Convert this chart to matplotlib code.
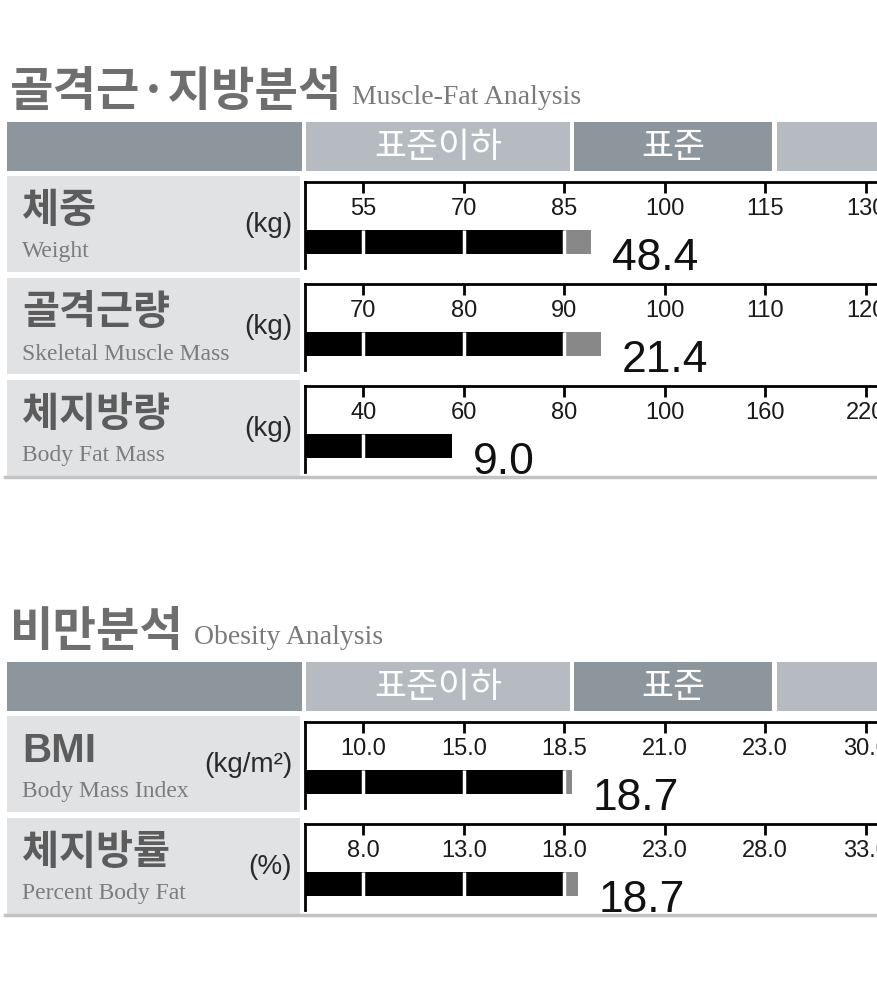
import matplotlib
matplotlib.use('Agg')
import matplotlib.pyplot as plt
import numpy as np
from matplotlib.patches import Rectangle
from matplotlib.font_manager import fontManager

# ---- data ----
muscle_title = '골격근·지방분석'
muscle_sub = 'Muscle-Fat Analysis'
muscle_kr = ['체중', '골격근량', '체지방량']
muscle_en = ['Weight', 'Skeletal Muscle Mass', 'Body Fat Mass']
muscle_units = ['(kg)', '(kg)', '(kg)']
muscle_ticks = [[55, 70, 85, 100, 115, 130],
                [70, 80, 90, 100, 110, 120],
                [40, 60, 80, 100, 160, 220]]
muscle_bar = [89.0, 93.7, 57.6]          # % of standard
muscle_values = ['48.4', '21.4', '9.0']

obesity_title = '비만분석'
obesity_sub = 'Obesity Analysis'
obesity_kr = ['BMI', '체지방률']
obesity_en = ['Body Mass Index', 'Percent Body Fat']
obesity_units = ['(kg/m²)', '(%)']
obesity_ticks = [[10.0, 15.0, 18.5, 21.0, 23.0, 30.0],
                 [8.0, 13.0, 18.0, 23.0, 28.0, 33.0]]
obesity_bar = [18.7, 18.7]
obesity_values = ['18.7', '18.7']

header_labels = ['표준이하', '표준', '']

# ---- style ----
names = {f.name for f in fontManager.ttflist}
NARROW = 'Liberation Sans Narrow' if 'Liberation Sans Narrow' in names else 'Liberation Sans'
KR = ['Noto Sans CJK KR', 'DejaVu Sans']
SERIF = 'Liberation Serif'
DARK_CELL = '#8e969d'
LIGHT_CELL = '#b6bbc1'
LABEL_CELL = '#e1e2e4'
W, H = 877, 1000


def seg_scale(ticks):
    t = np.asarray(ticks, float)
    p = np.arange(len(t), dtype=float)

    def fwd(v):
        v = np.asarray(v, float)
        out = np.interp(v, t, p)
        out = np.where(v < t[0], (v - t[0]) / (t[1] - t[0]), out)
        out = np.where(v > t[-1], p[-1] + (v - t[-1]) / (t[-1] - t[-2]), out)
        return out

    def inv(x):
        x = np.asarray(x, float)
        out = np.interp(x, p, t)
        out = np.where(x < p[0], t[0] + x * (t[1] - t[0]), out)
        out = np.where(x > p[-1], t[-1] + (x - p[-1]) * (t[-1] - t[-2]), out)
        return out
    return fwd, inv


fig = plt.figure(figsize=(W / 100, H / 100), dpi=100)
bg = fig.add_axes([0, 0, 1, 1])
bg.set_xlim(0, W)
bg.set_ylim(H, 0)
bg.axis('off')
renderer = fig.canvas.get_renderer()


def draw_section(y0, title, sub, kr, en, units, ticks, bars, values, fmt):
    # title
    t = bg.text(10, y0 + 106, title, family=KR, weight='bold', fontsize=34,
                color='#6e6e6e', va='baseline', ha='left')
    bb = t.get_window_extent(renderer)
    x_end = bb.x1 * W / fig.bbox.width
    bg.text(x_end + 10, y0 + 104, sub, family=SERIF, fontsize=20,
            color='#7a7a7a', va='baseline', ha='left')

    # header row
    hy, hh = y0 + 122, 49
    bg.add_patch(Rectangle((7, hy), 295, hh, color=DARK_CELL, lw=0))
    cells = [(306, 264, LIGHT_CELL), (574, 198, DARK_CELL), (777, 200, LIGHT_CELL)]
    for (cx, cw, cc), lab in zip(cells, header_labels):
        bg.add_patch(Rectangle((cx, hy), cw, hh, color=cc, lw=0))
        bg.text(cx + cw / 2, hy + hh / 2 + 1, lab, family=KR, fontsize=25,
                color='white', ha='center', va='center')

    # rows
    for i in range(len(kr)):
        top = y0 + 176 + i * 102
        bg.add_patch(Rectangle((7, top), 293, 96, color=LABEL_CELL, lw=0))
        fam = KR if kr[i] != 'BMI' else ['Liberation Sans']
        bg.text(22, top + 35, kr[i], family=fam, weight='bold', fontsize=29,
                color='#5c5c5c', ha='left', va='center')
        bg.text(22, top + 76, en[i], family=SERIF, fontsize=17,
                color='#7c7c7c', ha='left', va='center')
        bg.text(292, top + 49, units[i], family='Liberation Sans', fontsize=20,
                color='#2a2a2a', ha='right', va='center')

        ct = top + 6
        ax = fig.add_axes([305 / W, 1 - (ct + 86) / H, (958 - 305) / W, 86 / H])
        fwd, inv = seg_scale(ticks[i])
        ax.set_xscale('function', functions=(fwd, inv))
        xmin, xmax = float(inv(-0.58)), float(inv(5.92))
        ax.set_xlim(xmin, xmax)
        ax.set_ylim(86, 0)
        ax.set_facecolor('white')
        for s in ['bottom', 'right']:
            ax.spines[s].set_visible(False)
        for s in ['top', 'left']:
            ax.spines[s].set_linewidth(2)
            ax.spines[s].set_color('black')
        ax.set_xticks(ticks[i])
        ax.xaxis.set_ticks_position('top')
        ax.tick_params(axis='x', direction='in', length=8, width=2,
                       labeltop=False, labelbottom=False)
        ax.set_yticks([])
        for tv in ticks[i]:
            ax.text(tv, 27, fmt(tv), family=NARROW, fontsize=17,
                    color='#1a1a1a', ha='center', va='center')

        b = bars[i]
        cut = ticks[i][2]
        ax.barh(60, min(b, cut) - xmin, left=xmin, height=24, color='black', lw=0)
        if b > cut:
            ax.barh(60, b - cut, left=cut, height=24, color='#888888', lw=0)
        ax.vlines([tv for tv in ticks[i] if tv < b], 48, 72, color='white', lw=2.5)
        ax.annotate(values[i], xy=(b, 60), xytext=(15, -12),
                    textcoords='offset points', family=NARROW, fontsize=32,
                    color='#111111', ha='left', va='center')

    yb = y0 + 176 + len(kr) * 102 - 5
    bg.plot([5, W], [yb, yb], color='#c3c3c3', lw=2.5)


draw_section(0, muscle_title, muscle_sub, muscle_kr, muscle_en, muscle_units,
             muscle_ticks, muscle_bar, muscle_values, lambda v: f'{v:g}')
draw_section(540, obesity_title, obesity_sub, obesity_kr, obesity_en, obesity_units,
             obesity_ticks, obesity_bar, obesity_values, lambda v: f'{v:.1f}')

fig.savefig('out.png', dpi=100, facecolor='white')
